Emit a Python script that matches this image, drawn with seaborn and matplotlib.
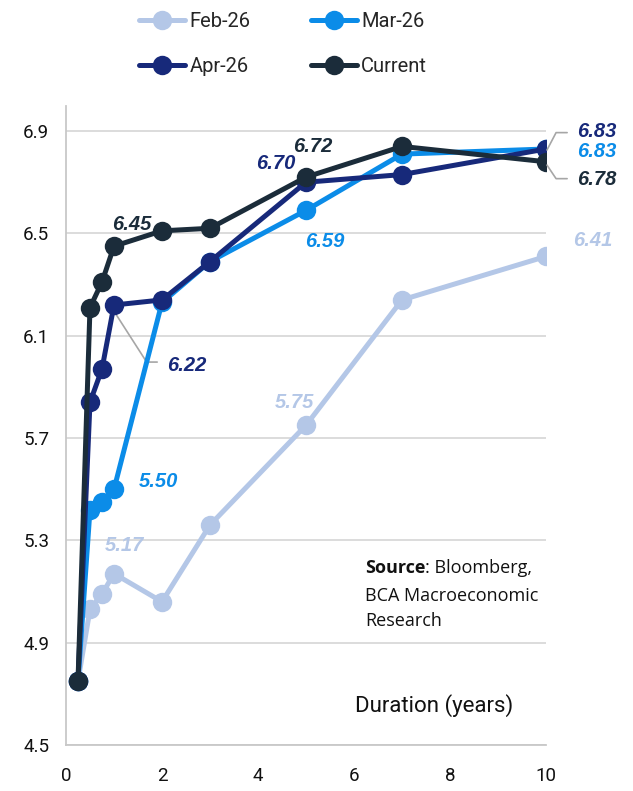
import numpy as np
import pandas as pd
import matplotlib
matplotlib.use("Agg")
import matplotlib.pyplot as plt
import seaborn as sns

# ---- data ----
duration = [0.25, 0.5, 0.75, 1, 2, 3, 5, 7, 10]
feb26 = [4.75, 5.03, 5.09, 5.17, 5.06, 5.36, 5.75, 6.24, 6.41]
mar26 = [4.75, 5.42, 5.45, 5.50, 6.23, 6.39, 6.59, 6.81, 6.83]
apr26 = [4.75, 5.84, 5.97, 6.22, 6.24, 6.39, 6.70, 6.73, 6.83]
current = [4.75, 6.21, 6.31, 6.45, 6.51, 6.52, 6.72, 6.84, 6.78]
series_names = ["Feb-26", "Mar-26", "Apr-26", "Current"]
x_ticks = [0, 2, 4, 6, 8, 10]
y_ticks = [4.5, 4.9, 5.3, 5.7, 6.1, 6.5, 6.9]

colors = {"Feb-26": "#B4C7E7", "Mar-26": "#0B8CE8", "Apr-26": "#17297A", "Current": "#1B2C3A"}

df = pd.DataFrame({
    "Duration": duration * 4,
    "Yield": feb26 + mar26 + apr26 + current,
    "Series": sum([[n] * len(duration) for n in series_names], []),
})

sns.set_theme(style="white")
plt.rcParams['font.family'] = ['Roboto', 'DejaVu Sans']

fig = plt.figure(figsize=(6.33, 7.91), dpi=100)
ax = fig.add_axes([66/633, 1-745/791, 480/633, (745-105.5)/791])

for name in series_names:
    sub = df[df["Series"] == name]
    sns.lineplot(data=sub, x="Duration", y="Yield", ax=ax, color=colors[name],
                 linewidth=3.6, marker="o", markersize=14, markeredgewidth=0,
                 label=name, legend=False)

ax.set_xlim(0, 10)
ax.set_ylim(4.5, 7.0)
ax.set_xticks(x_ticks)
ax.set_yticks(y_ticks)
ax.set_xticklabels([str(t) for t in x_ticks], fontsize=13.5)
ax.set_yticklabels([f"{t:.1f}" for t in y_ticks], fontsize=13.5)
ax.tick_params(axis="both", length=0, colors="#111111")
ax.tick_params(axis="y", pad=12)
ax.tick_params(axis="x", pad=16)
ax.set_xlabel("")
ax.set_ylabel("")
ax.yaxis.grid(True, color="#D9D9D9", linewidth=1.3)
ax.set_axisbelow(True)
for s in ["top", "right"]:
    ax.spines[s].set_visible(False)
for s in ["left", "bottom"]:
    ax.spines[s].set_color("#C8C8C8")
    ax.spines[s].set_linewidth(1.3)

lab_kw = dict(fontsize=14.5, fontweight="bold", fontstyle="italic",
              family=["Liberation Sans", "DejaVu Sans"], ha="center", va="center")
# data labels (value, anchor position in data coords)
ax.text(1.36, 6.535, f"{current[3]:.2f}", color=colors["Current"], **lab_kw)
ax.text(5.15, 6.84, f"{current[6]:.2f}", color=colors["Current"], **lab_kw)
ax.text(4.37, 6.775, f"{apr26[6]:.2f}", color=colors["Apr-26"], **lab_kw)
ax.text(5.4, 6.47, f"{mar26[6]:.2f}", color=colors["Mar-26"], **lab_kw)
ax.text(1.92, 5.53, f"{mar26[3]:.2f}", color=colors["Mar-26"], **lab_kw)
ax.text(1.21, 5.28, f"{feb26[3]:.2f}", color=colors["Feb-26"], **lab_kw)
ax.text(4.77, 5.84, f"{feb26[6]:.2f}", color=colors["Feb-26"], **lab_kw)
ax.text(10.98, 6.472, f"{feb26[8]:.2f}", color=colors["Feb-26"], clip_on=False, **lab_kw)
ax.text(11.05, 6.90, f"{apr26[8]:.2f}", color=colors["Apr-26"], clip_on=False, **lab_kw)
ax.text(11.05, 6.82, f"{mar26[8]:.2f}", color=colors["Mar-26"], clip_on=False, **lab_kw)
ax.text(11.05, 6.71, f"{current[8]:.2f}", color=colors["Current"], clip_on=False, **lab_kw)

# 6.22 label with leader line
lab_kw_left = dict(lab_kw, ha="left")
ax.text(2.10, 5.985, f"{apr26[3]:.2f}", color=colors["Apr-26"], **lab_kw_left)
ax.plot([1.02, 1.68, 1.90], [6.19, 5.997, 5.997], color="#A6A6A6", lw=1.2, zorder=1)
# leader lines at right end
ax.plot([10.02, 10.21, 10.44], [6.826, 6.894, 6.894], color="#A6A6A6", lw=1.2, clip_on=False)
ax.plot([10.02, 10.21, 10.44], [6.767, 6.714, 6.714], color="#A6A6A6", lw=1.2, clip_on=False)

ax.text(7.67, 4.655, "Duration (years)", fontsize=16, color="#111111", ha="center", va="center")

src_kw = dict(fontsize=13, color="#111111", ha="left", va="center",
              family=["Open Sans", "DejaVu Sans"])
t1 = ax.text(6.23, 5.19, "Source", fontweight="bold", **src_kw)
ax.annotate(": Bloomberg,", xy=(1, 0), xycoords=t1, fontsize=13, color="#111111",
            ha="left", va="bottom", family=["Open Sans", "DejaVu Sans"])
ax.text(6.23, 5.083, "BCA Macroeconomic", **src_kw)
ax.text(6.23, 4.985, "Research", **src_kw)

handles, labels = ax.get_legend_handles_labels()
order = [0, 2, 1, 3]
leg = fig.legend([handles[i] for i in order], [labels[i] for i in order], ncol=2,
                 loc="upper center", bbox_to_anchor=(283/633, 1.008), frameon=False,
                 fontsize=14.5, handlelength=2.3, columnspacing=3.0, labelspacing=1.3,
                 handletextpad=0.2)

fig.savefig("out.png", dpi=100)
